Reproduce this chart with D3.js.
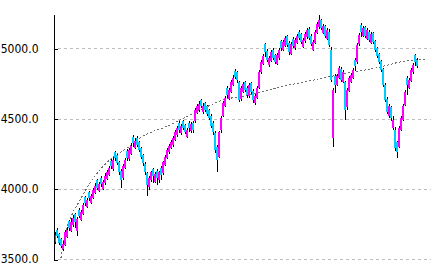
<!DOCTYPE html>
<html>
<head>
<meta charset="utf-8">
<script src="https://cdn.jsdelivr.net/npm/d3@7"></script>
<style>
  body { margin: 0; background: #fff; }
</style>
</head>
<body>
<script>
const w = 433;
const h = 273;

const opens = [3620,3710,3680,3640,3570,3600,3660,3770,3700,3740,3820,3700,3850,3780,3820,3940,3870,3975,3900,3935,
  3970,4060,3985,4080,4000,4040,4070,4100,4200,4140,4260,4240,4190,4130,4080,4150,4270,4210,4250,4370,
  4290,4365,4330,4290,4240,4180,4110,4010,4060,4140,4050,4130,4060,4150,4110,4170,4220,4260,4290,4310,
  4350,4380,4470,4395,4480,4455,4370,4470,4410,4470,4480,4540,4560,4630,4545,4610,4590,4560,4520,4470,
  4400,4300,4230,4420,4520,4590,4720,4640,4690,4740,4840,4830,4760,4640,4690,4760,4720,4660,4750,4700,
  4610,4650,4720,4830,4890,5030,4985,4880,4910,4990,4950,4890,4930,5050,4990,5020,5085,5040,4960,5070,
  5000,5040,5120,5100,5010,5050,5080,5140,5090,4990,5040,5110,5150,5200,5110,5160,5070,5120,4990,4362,
  4800,4740,4790,4850,4760,4760,4580,4700,4760,4790,4920,4900,5030,5170,5090,5150,5070,5120,5040,5110,
  5050,5000,4960,4910,4850,4740,4640,4520,4580,4430,4420,4330,4300,4420,4490,4600,4790,4720,4770,4830,
  4950,4920];
const highs = [3690,3720,3688,3650,3625,3705,3725,3780,3790,3810,3830,3798,3860,3850,3900,3950,3935,3985,3965,4005,
  4040,4070,4050,4090,4062,4110,4135,4165,4210,4225,4270,4250,4200,4140,4175,4220,4280,4290,4325,4380,
  4360,4375,4340,4300,4250,4190,4120,4090,4130,4150,4120,4140,4130,4160,4200,4240,4290,4318,4345,4378,
  4418,4448,4480,4462,4490,4465,4432,4480,4475,4480,4575,4605,4622,4640,4612,4620,4600,4570,4530,4480,
  4410,4310,4415,4515,4625,4660,4730,4720,4775,4808,4850,4840,4770,4730,4762,4770,4730,4752,4760,4710,
  4675,4730,4845,4918,4960,5040,4995,4948,4988,5000,4960,4965,5002,5060,5060,5090,5095,5050,5045,5080,
  5072,5102,5130,5110,5075,5118,5145,5150,5100,5062,5130,5188,5235,5212,5175,5170,5145,5135,5010,4720,
  4815,4818,4875,4865,4845,4770,4715,4802,4825,4860,4930,5038,5110,5180,5160,5160,5145,5130,5118,5120,
  5060,5010,4970,4920,4860,4750,4652,4602,4592,4522,4440,4340,4445,4518,4602,4702,4800,4790,4860,4895,
  4960,4930];
const lows = [3610,3650,3600,3575,3560,3595,3650,3700,3690,3730,3720,3665,3790,3770,3810,3880,3860,3915,3890,3925,
  3960,3990,3975,4015,3990,4030,4060,4090,4140,4130,4200,4170,4100,4006,4060,4140,4200,4200,4240,4300,
  4280,4298,4260,4210,4165,4095,3949,3990,4050,4040,4040,4030,4040,4060,4095,4160,4210,4250,4280,4300,
  4340,4370,4400,4385,4418,4388,4360,4408,4400,4400,4470,4530,4550,4575,4535,4545,4515,4488,4430,4385,
  4255,4119,4220,4400,4510,4580,4650,4630,4680,4730,4780,4755,4615,4625,4680,4688,4650,4650,4675,4612,
  4600,4640,4710,4820,4880,4938,4900,4870,4900,4915,4888,4880,4920,4985,4980,5010,5010,4955,4950,5002,
  4990,5030,5060,5030,5000,5040,5070,5060,5015,4980,5030,5100,5140,5130,5100,5072,5060,5008,4760,4297,
  4685,4730,4780,4758,4750,4490,4558,4690,4750,4780,4838,4890,5018,5078,5080,5072,5060,5045,5030,5030,
  4972,4930,4888,4830,4722,4615,4530,4505,4485,4420,4272,4219,4290,4410,4480,4590,4668,4710,4760,4820,
  4872,4860];
const closes = [3671,3664,3614,3593,3607,3692,3706,3721,3763,3792,3763,3785,3806,3835,3884,3899,3920,3934,3949,3991,
  4020,4006,4034,4034,4048,4091,4119,4148,4162,4205,4219,4184,4119,4062,4162,4205,4219,4276,4305,4326,
  4340,4312,4276,4226,4184,4119,4027,4077,4119,4091,4105,4077,4119,4098,4191,4226,4276,4305,4333,4362,
  4404,4433,4418,4447,4433,4404,4418,4433,4461,4418,4561,4589,4604,4589,4589,4561,4532,4504,4447,4404,
  4276,4205,4404,4504,4611,4646,4668,4703,4760,4789,4796,4774,4632,4718,4746,4703,4668,4739,4689,4632,
  4661,4718,4831,4903,4945,4974,4917,4931,4974,4931,4903,4952,4988,5002,5045,5074,5024,4974,5031,5017,
  5059,5088,5074,5045,5059,5102,5130,5074,5031,5045,5116,5173,5202,5145,5159,5088,5130,5024,4774,4703,
  4739,4803,4860,4774,4831,4561,4703,4789,4810,4846,4874,5024,5095,5116,5145,5088,5130,5059,5102,5045,
  4988,4945,4903,4846,4739,4632,4547,4589,4504,4490,4290,4262,4433,4504,4589,4689,4739,4774,4846,4881,
  4903,4874];

// long moving average (dotted line), sampled at bar positions
const maIndex = [3, 5.5, 8, 12.5, 17.5, 22.5, 29, 36, 42.5, 57.5, 72.5, 84, 97.5, 112.5, 129, 146, 162.5, 172.5, 186];
const maValues = [3510, 3700, 3800, 3920, 4040, 4134, 4226, 4290, 4362, 4454, 4561, 4632, 4668, 4725, 4774, 4824, 4867, 4903, 4924];

const yTicks = [3500, 4000, 4500, 5000];

const bars = closes.map((c, i) => ({i: i, o: opens[i], h: highs[i], l: lows[i], c: c}));

const xScale = d3.scaleLinear().domain([0, 186]).range([55, 427]);
const yScale = d3.scaleLinear().domain([3500, 5245]).range([259, 14]);

const svg = d3.select("body").append("svg")
  .attr("width", w)
  .attr("height", h)
  .style("display", "block");

// grid lines
svg.append("g")
  .selectAll("line")
  .data(yTicks)
  .enter()
  .append("line")
  .attr("x1", 58)
  .attr("x2", 431)
  .attr("y1", d => Math.round(yScale(d)) + 0.5)
  .attr("y2", d => Math.round(yScale(d)) + 0.5)
  .attr("stroke", "#bdbdbd")
  .attr("stroke-dasharray", "3,3")
  .attr("shape-rendering", "crispEdges");

// moving average
const maLine = d3.line()
  .x((d, k) => xScale(maIndex[k]))
  .y(d => yScale(d))
  .curve(d3.curveMonotoneX);

svg.append("path")
  .datum(maValues)
  .attr("d", maLine)
  .attr("fill", "none")
  .attr("stroke", "#6e6e6e")
  .attr("stroke-width", 1)
  .attr("stroke-dasharray", "2,2")
  .attr("shape-rendering", "crispEdges");

// candles
const candle = svg.append("g")
  .selectAll("g")
  .data(bars)
  .enter()
  .append("g")
  .attr("shape-rendering", "crispEdges");

candle.append("rect")
  .attr("x", d => Math.round(xScale(d.i)))
  .attr("width", 1)
  .attr("y", d => Math.round(yScale(d.h)))
  .attr("height", d => Math.max(1, Math.round(yScale(d.l)) - Math.round(yScale(d.h))))
  .attr("fill", "#000");

candle.append("rect")
  .attr("x", d => Math.round(xScale(d.i)) - 1)
  .attr("width", 2)
  .attr("y", d => Math.round(yScale(Math.max(d.o, d.c))))
  .attr("height", d => Math.max(1, Math.round(yScale(Math.min(d.o, d.c))) - Math.round(yScale(Math.max(d.o, d.c)))))
  .attr("fill", d => d.c >= d.o ? "#ff00ff" : "#00ccff");

// y axis
const yAxis = d3.axisLeft(yScale)
  .tickValues(yTicks)
  .tickSize(0)
  .tickPadding(15)
  .tickFormat(d3.format(".1f"));

const axisG = svg.append("g")
  .attr("transform", "translate(53.5,0)")
  .call(yAxis);

axisG.select(".domain").attr("stroke", "#000").attr("shape-rendering", "crispEdges");
axisG.selectAll("text")
  .attr("fill", "#000")
  .style("font-family", "'Liberation Sans Narrow', 'DejaVu Sans Condensed', sans-serif")
  .style("font-size", "12px");

// short inner tick marks
axisG.selectAll(".tick")
  .append("line")
  .attr("x1", 0)
  .attr("x2", 4)
  .attr("y1", 0.5)
  .attr("y2", 0.5)
  .attr("stroke", "#000")
  .attr("shape-rendering", "crispEdges");
</script>
</body>
</html>
